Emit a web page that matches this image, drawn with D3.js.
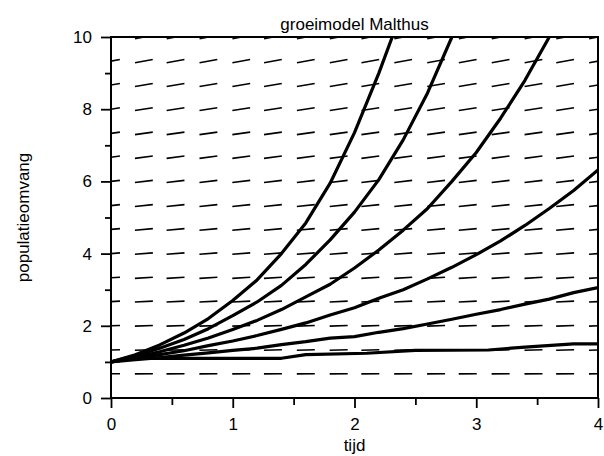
<!DOCTYPE html>
<html>
<head>
<meta charset="utf-8">
<script src="https://cdn.jsdelivr.net/npm/d3@7/dist/d3.min.js"></script>
<style>
  body { margin: 0; background: #fff; }
  text { font-family: "Liberation Sans", Arial, sans-serif; fill: #000; }
</style>
</head>
<body>
<script>
// groeimodel Malthus - richtingsveld met oplossingskrommen

// axis ticks
var xTicks = [0, 1, 2, 3, 4];
var xMinor = [0.5, 1.5, 2.5, 3.5];
var yTicks = [0, 2, 4, 6, 8, 10];
var yMinor = [1, 3, 5, 7, 9];

// direction field: grid of t values, rows of y values and the slope per row
var fieldT = [0, 0.27, 0.53, 0.8, 1.07, 1.33, 1.6, 1.87, 2.13, 2.4, 2.67, 2.93, 3.2, 3.47, 3.73, 4];
var fieldY = [0.67, 1.33, 2, 2.67, 3.33, 4, 4.67, 5.33, 6, 6.67, 7.33, 8, 8.67, 9.33, 10];
var fieldSlope = [0.04, 0.09, 0.13, 0.17, 0.22, 0.26, 0.3, 0.35, 0.39, 0.43, 0.48, 0.52, 0.56, 0.61, 0.65];

// solution curves, [t, y]
var curve1 = [[0,1],[0.2,1.2],[0.4,1.47],[0.6,1.8],[0.8,2.2],[1.0,2.7],[1.2,3.27],[1.4,4.0],[1.6,4.85],[1.8,5.95],[2.0,7.35],[2.2,9.0],[2.31,10]];
var curve2 = [[0,1],[0.2,1.17],[0.4,1.38],[0.6,1.62],[0.8,1.92],[1.0,2.28],[1.2,2.66],[1.4,3.12],[1.6,3.7],[1.8,4.38],[2.0,5.15],[2.2,6.05],[2.4,7.15],[2.6,8.45],[2.8,10]];
var curve3 = [[0,1],[0.2,1.13],[0.4,1.28],[0.6,1.46],[0.8,1.66],[1.0,1.9],[1.2,2.15],[1.4,2.45],[1.6,2.8],[1.8,3.15],[2.0,3.6],[2.2,4.1],[2.4,4.65],[2.6,5.25],[2.8,6.0],[3.0,6.8],[3.2,7.75],[3.4,8.8],[3.6,10]];
var curve4 = [[0,1],[0.2,1.1],[0.4,1.2],[0.6,1.31],[0.8,1.45],[1.0,1.58],[1.2,1.73],[1.4,1.9],[1.6,2.08],[1.8,2.3],[2.0,2.5],[2.2,2.76],[2.4,3.0],[2.6,3.3],[2.8,3.62],[3.0,3.97],[3.2,4.35],[3.4,4.78],[3.6,5.25],[3.8,5.75],[4.0,6.32]];
var curve5 = [[0,1],[0.2,1.06],[0.4,1.12],[0.6,1.19],[0.8,1.25],[1.0,1.32],[1.2,1.38],[1.4,1.48],[1.6,1.56],[1.8,1.66],[2.0,1.7],[2.2,1.82],[2.4,1.92],[2.6,2.05],[2.8,2.18],[3.0,2.32],[3.2,2.45],[3.4,2.6],[3.6,2.74],[3.8,2.92],[4.0,3.06]];
var curve6 = [[0,1],[0.2,1.1],[0.6,1.1],[1.0,1.1],[1.4,1.1],[1.6,1.2],[2.1,1.24],[2.5,1.32],[3.1,1.33],[3.4,1.41],[3.8,1.5],[4.0,1.5]];
var curves = [curve1, curve2, curve3, curve4, curve5, curve6];

var width = 604, height = 456;
var margin = {top: 37, right: 6, bottom: 58, left: 111};
var plotW = width - margin.left - margin.right,
    plotH = height - margin.top - margin.bottom;

var svg = d3.select("body").append("svg")
    .attr("width", width)
    .attr("height", height);

var x = d3.scaleLinear().domain([0, 4]).range([0, plotW]);
var y = d3.scaleLinear().domain([0, 10]).range([plotH, 0]);

var g = svg.append("g")
    .attr("transform", "translate(" + margin.left + "," + margin.top + ")");

// clip everything to the plot box
svg.append("defs").append("clipPath").attr("id", "plotclip")
  .append("rect").attr("width", plotW).attr("height", plotH);

var plot = g.append("g").attr("clip-path", "url(#plotclip)");

// direction field dashes, fixed length in pixels
var dashLen = 18;
var cells = [];
fieldY.forEach(function(yv, i) {
  fieldT.forEach(function(tv) {
    cells.push({t: tv, y: yv, s: fieldSlope[i]});
  });
});

plot.selectAll("line.field")
    .data(cells)
  .enter().append("line")
    .attr("class", "field")
    .each(function(d) {
      // slope in pixel space
      var dx = x(1) - x(0), dy = y(d.s) - y(0);
      var n = Math.sqrt(dx * dx + dy * dy);
      var ux = dx / n * dashLen / 2, uy = dy / n * dashLen / 2;
      d3.select(this)
        .attr("x1", x(d.t) - ux).attr("y1", y(d.y) - uy)
        .attr("x2", x(d.t) + ux).attr("y2", y(d.y) + uy);
    })
    .attr("stroke", "#000")
    .attr("stroke-width", 1.6);

// solution curves
var line = d3.line()
    .x(function(d) { return x(d[0]); })
    .y(function(d) { return y(d[1]); });

plot.selectAll("path.curve")
    .data(curves)
  .enter().append("path")
    .attr("class", "curve")
    .attr("d", line)
    .attr("fill", "none")
    .attr("stroke", "#000")
    .attr("stroke-width", 3.2)
    .attr("stroke-linejoin", "round");

// frame
g.append("rect")
    .attr("width", plotW).attr("height", plotH)
    .attr("fill", "none")
    .attr("stroke", "#000")
    .attr("stroke-width", 2);

// x axis
var xAxis = g.append("g").attr("transform", "translate(0," + plotH + ")")
    .call(d3.axisBottom(x).tickValues(xTicks).tickSize(10).tickPadding(10).tickFormat(d3.format("d")));
g.append("g").attr("transform", "translate(0," + plotH + ")")
    .call(d3.axisBottom(x).tickValues(xMinor).tickSize(7).tickFormat(""));

// y axis
var yAxis = g.append("g")
    .call(d3.axisLeft(y).tickValues(yTicks).tickSize(10).tickPadding(9).tickFormat(d3.format("d")));
g.append("g")
    .call(d3.axisLeft(y).tickValues(yMinor).tickSize(6).tickFormat(""));

g.selectAll(".domain").remove();
g.selectAll(".tick line").attr("stroke", "#000").attr("stroke-width", 1.8);
g.selectAll(".tick text")
    .style("font-family", "'Liberation Sans', Arial, sans-serif")
    .style("font-size", "17px");

// titles
svg.append("text")
    .attr("x", margin.left + plotW / 2).attr("y", 30)
    .attr("text-anchor", "middle")
    .style("font-size", "17px")
    .text("groeimodel Malthus");

svg.append("text")
    .attr("x", margin.left + plotW / 2).attr("y", 451)
    .attr("text-anchor", "middle")
    .style("font-size", "17px")
    .text("tijd");

svg.append("text")
    .attr("transform", "translate(29," + (margin.top + plotH / 2) + ") rotate(-90)")
    .attr("text-anchor", "middle")
    .style("font-size", "17px")
    .text("populatieomvang");
</script>
</body>
</html>
